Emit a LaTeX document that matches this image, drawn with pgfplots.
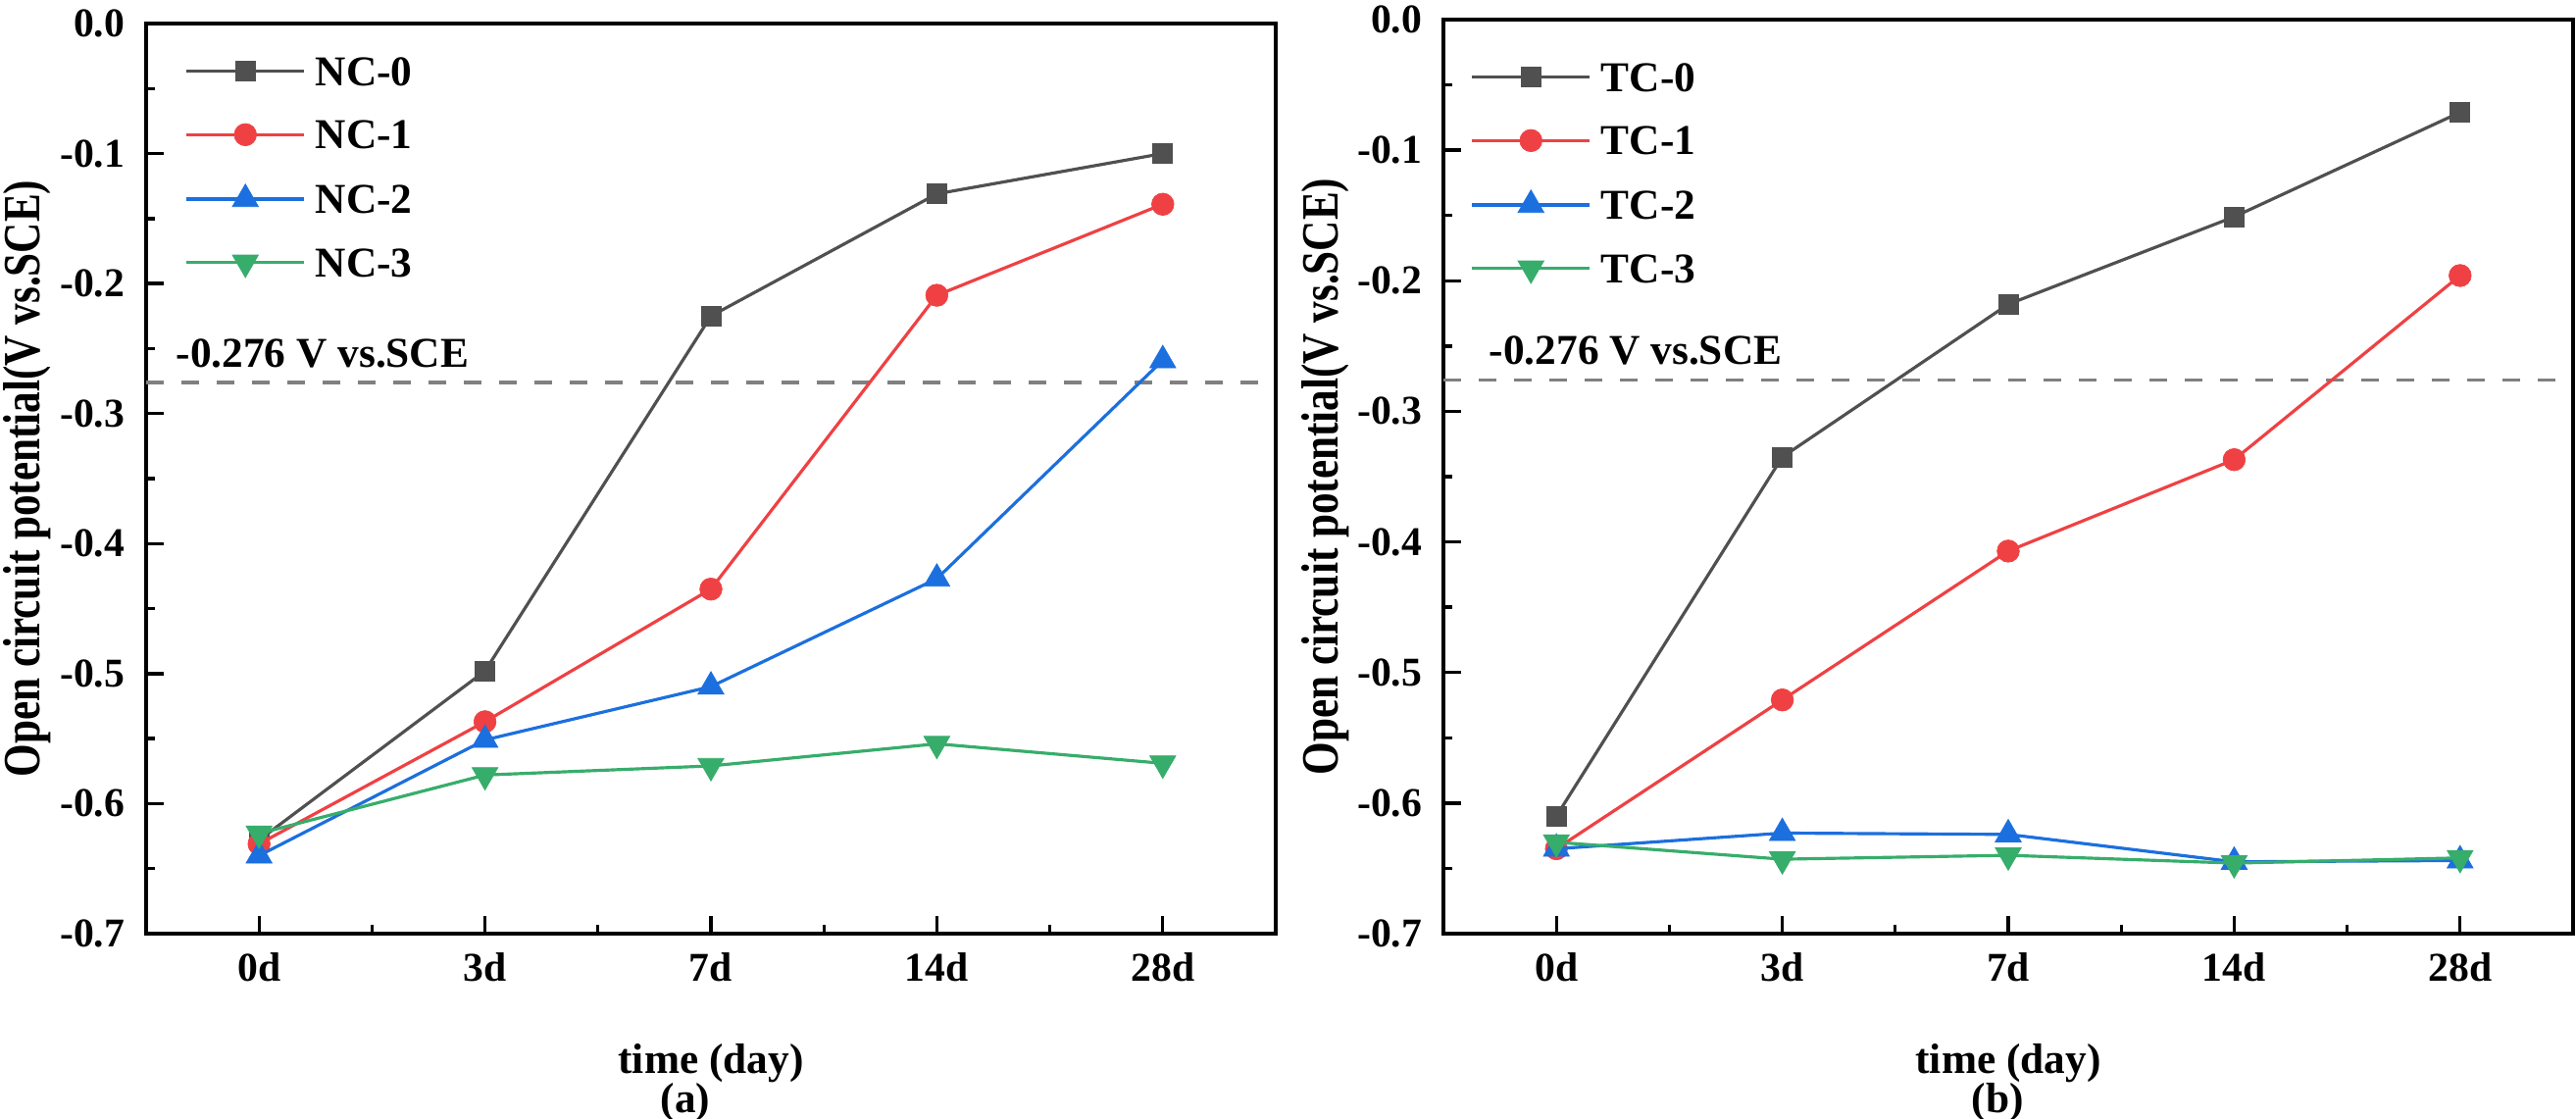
\documentclass[border=0pt]{standalone}
\usepackage{fontspec}
\setmainfont{Liberation Serif}
\usepackage{graphicx}
\usepackage{pgfplots}
\pgfplotsset{compat=1.18}
\definecolor{cgray}{HTML}{505050}
\definecolor{cred}{HTML}{EF4143}
\definecolor{cblue}{HTML}{1C6FDE}
\definecolor{cgreen}{HTML}{37AD6B}
\definecolor{cdash}{HTML}{808080}

\pgfplotstableread{
x  a0     a1     a2     a3
0 -0.628 -0.631 -0.640 -0.623
1 -0.498 -0.537 -0.551 -0.578
2 -0.225 -0.435 -0.510 -0.571
3 -0.131 -0.209 -0.427 -0.554
4 -0.100 -0.139 -0.259 -0.569
}\NCdata
\pgfplotstableread{
x  b0     b1     b2     b3
0 -0.610 -0.635 -0.635 -0.630
1 -0.335 -0.521 -0.623 -0.643
2 -0.218 -0.407 -0.624 -0.640
3 -0.151 -0.337 -0.645 -0.646
4 -0.071 -0.196 -0.644 -0.642
}\TCdata

\newcommand{\tfont}{\fontsize{12.5}{14}\selectfont\bfseries}
\newcommand{\lfont}{\fontsize{13}{15}\selectfont\bfseries}

\pgfplotsset{
  ocp/.style={
    scale only axis, width=345.6pt, clip mode=individual,
    xmin=-0.5, xmax=4.5, ymin=-0.7, ymax=0,
    xtick={0,1,2,3,4}, xticklabels={0d,3d,7d,14d,28d},
    ytick={-0.7,-0.6,-0.5,-0.4,-0.3,-0.2,-0.1,0},
    yticklabels={-0.7,-0.6,-0.5,-0.4,-0.3,-0.2,-0.1,0.0},
    minor x tick num=1, minor y tick num=1,
    tick pos=left, tick align=inside,
    major tick length=5.4pt, minor tick length=2.7pt,
    tick style={black, line width=1pt},
    axis line style={line width=1pt},
    tick label style={font=\tfont},
    yticklabel style={xshift=-3pt},
    xticklabel style={yshift=-2.3pt},
    xlabel={time (day)},
    xlabel style={at={(axis description cs:0.5,0)}, anchor=base, yshift=-42.9pt, font=\lfont},
    ylabel={\scalebox{0.81}[1]{Open circuit potential(V vs.SCE)}},
    ylabel style={at={(axis description cs:-0.09375,0.5)}, anchor=base, font=\fontsize{16}{18}\selectfont\bfseries},
    legend style={draw=none, fill=none, at={(axis description cs:0,1)}, anchor=north west,
      font=\lfont, row sep=10.8pt, inner sep=0pt, column sep=0pt,
      nodes={inner sep=0pt, text height=8.6pt, text depth=0pt}},
    legend cell align=left,
    legend image code/.code={%
      \draw[mark repeat=2,mark phase=2] plot coordinates {(0pt,0pt)(18pt,0pt)(36pt,0pt)};
      \path[draw=none] (0pt,0pt) -- (39.5pt,0pt);},
  },
  s0/.style={cgray, line width=0.95pt, mark=square*, mark size=3pt, mark options={solid, fill=cgray, draw=cgray, line width=0.2pt}},
  s1/.style={cred, line width=0.95pt, mark=*, mark size=3.4pt, mark options={solid, fill=cred, draw=cred, line width=0.2pt}},
  s2/.style={cblue, line width=0.95pt, mark=triangle*, mark size=4.6pt, mark options={solid, fill=cblue, draw=cblue, line width=0.2pt}},
  s3/.style={cgreen, line width=0.95pt, mark=triangle*, mark size=4.6pt, mark options={solid, fill=cgreen, draw=cgreen, line width=0.2pt, rotate=180}},
  refl/.style={cdash, line width=1pt, dash pattern=on 5.5pt off 5.3pt, forget plot},
}

\begin{document}
\begin{tikzpicture}
\begin{axis}[ocp, at={(44.7pt,56.7pt)}, anchor=south west, height=278.4pt,
  legend style={xshift=11.7pt, yshift=-10.1pt}]
  \addplot[refl] coordinates {(-0.5,-0.276) (4.5,-0.276)};
  \addplot[s0] table[x=x,y=a0] {\NCdata};
  \addplot[s1] table[x=x,y=a1] {\NCdata};
  \addplot[s2] table[x=x,y=a2] {\NCdata};
  \addplot[s3] table[x=x,y=a3] {\NCdata};
  \legend{NC-0,NC-1,NC-2,NC-3}
  \node[anchor=base west, inner sep=0pt, font=\lfont] at (axis cs:-0.370,-0.2645) {-0.276 V vs.SCE};
  \node[anchor=base, font=\lfont, yshift=-54.8pt] at (axis description cs:0.4774,0) {(a)};
\end{axis}
\begin{axis}[ocp, at={(441.6pt,56.7pt)}, anchor=south west, height=279.6pt,
  legend style={xshift=8.1pt, yshift=-13.1pt}]
  \addplot[refl] coordinates {(-0.5,-0.276) (4.5,-0.276)};
  \addplot[s0] table[x=x,y=b0] {\TCdata};
  \addplot[s1] table[x=x,y=b1] {\TCdata};
  \addplot[s2] table[x=x,y=b2] {\TCdata};
  \addplot[s3] table[x=x,y=b3] {\TCdata};
  \legend{TC-0,TC-1,TC-2,TC-3}
  \node[anchor=base west, inner sep=0pt, font=\lfont] at (axis cs:-0.300,-0.2637) {-0.276 V vs.SCE};
  \node[anchor=base, font=\lfont, yshift=-54.8pt] at (axis description cs:0.4905,0) {(b)};
\end{axis}
\pgfresetboundingbox
\path[use as bounding box] (0,0) rectangle (788.1pt,342.3pt);
\end{tikzpicture}
\end{document}
